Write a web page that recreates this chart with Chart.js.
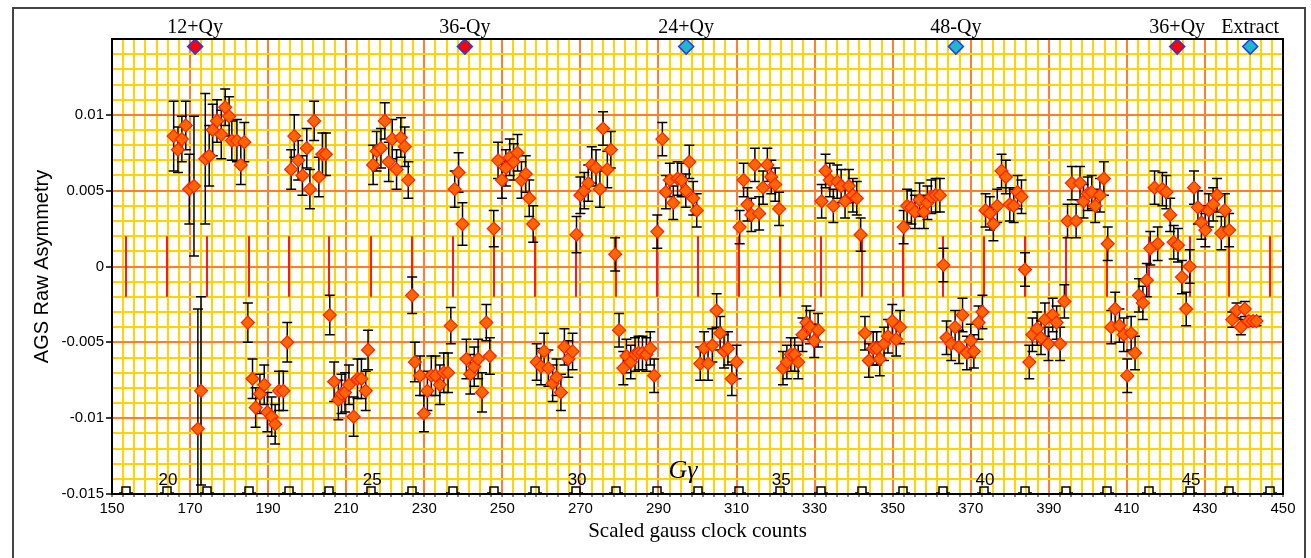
<!DOCTYPE html>
<html>
<head>
<meta charset="utf-8">
<title>AGS Raw Asymmetry</title>
<script src="https://cdn.jsdelivr.net/npm/chart.js@4"></script>
<style>
  body { margin: 0; background: #fff; }
  canvas { display: block; }
</style>
</head>
<body>
<canvas id="chart" width="1311" height="558"></canvas>
<script>
// Scaled gauss clock counts of every measurement
var gaussCounts = [
  165.8, 166.9, 167.9, 168.9, 169.8, 171.0, 172.0, 172.8, 173.9, 174.9, 175.8, 176.9, 178.0, 179.0, 180.0, 180.7, 182.0, 183.0, 183.9,
  184.8, 186.0, 186.8, 187.9, 189.0, 189.8, 190.9, 191.8, 192.8, 193.9, 194.9,
  195.9, 196.7, 197.7, 198.8, 199.9, 200.7, 201.8, 203.0, 203.9, 204.8,
  205.8, 206.9, 208.0, 208.8, 209.7, 210.7, 211.9, 212.9, 213.9, 215.0, 215.6,
  216.9, 217.8, 218.9, 219.9, 220.9, 221.8, 222.9, 224.0, 225.0, 225.9, 226.9,
  227.6, 228.9, 229.9, 230.8, 231.8, 232.9, 234.0, 235.0, 236.1, 236.8,
  237.8, 238.8, 239.8,
  240.8, 241.8, 242.8, 243.8, 244.8, 245.9, 246.8,
  247.8, 248.9, 249.9, 250.9, 251.9, 252.9, 253.9, 254.9, 256.0, 256.9, 257.9,
  258.8, 259.9, 260.7, 261.8, 262.9, 263.9, 265.0, 265.9, 266.9, 268.0,
  269.0, 270.0, 271.0, 272.0, 272.9, 274.0, 275.0, 275.8, 276.9, 277.8, 278.9,
  279.9, 281.0, 281.8, 282.9, 284.0, 284.9, 285.9, 286.9, 287.9, 288.9,
  289.7, 291.0, 291.9, 292.9, 293.8, 294.9, 295.9, 297.0, 297.9, 298.9, 299.8,
  300.7, 301.7, 302.7, 303.8, 304.9, 305.8, 306.8, 307.8, 308.8, 310.0,
  310.8, 311.8, 312.8, 313.8, 314.7, 315.8, 316.8, 317.9, 318.9, 319.9, 320.9,
  321.9, 322.9, 323.9, 324.9, 325.8, 326.9, 327.9, 328.8, 329.9, 330.9,
  331.8, 332.8, 333.9, 334.8, 335.8, 336.8, 337.8, 338.8, 339.8, 340.8, 341.8,
  342.9, 343.9, 345.0, 345.9, 346.7, 347.8, 348.8, 349.9, 350.9, 351.9,
  352.8, 353.7, 354.8, 355.7, 356.9, 358.0, 358.9, 359.9, 361.0, 362.1, 363.0,
  363.8, 365.0, 366.0, 367.0, 367.9, 369.0, 370.0, 370.8, 372.0, 373.0,
  373.8, 374.9, 375.8, 376.8, 377.9, 379.0, 380.0, 381.0, 382.0, 383.0, 383.9,
  385.0, 385.8, 387.0, 388.0, 389.0, 389.9, 391.0, 392.0, 392.9, 394.0,
  394.8, 395.9, 397.0, 398.0, 398.9, 400.0, 401.0, 401.9, 403.1, 404.1, 405.1,
  406.0, 407.0, 408.1, 409.2, 410.1, 411.1, 412.1, 413.1, 414.1, 415.1,
  416.0, 417.1, 417.9, 419.1, 420.1, 421.1, 422.0, 423.1, 424.1, 425.2, 426.1,
  427.2, 428.2, 429.1, 430.1, 431.0, 432.1, 433.1, 434.2, 435.1, 436.2,
  437.0, 438.1, 439.2, 440.2, 441.2, 442.3, 443.2
]

// Raw asymmetry read for each count
var asymmetry = [
  0.0086, 0.0077, 0.0084, 0.0093, 0.0051, 0.0053, -0.0107, -0.0082, 0.0071, 0.0073, 0.0090, 0.0096, 0.0087, 0.0105, 0.0099, 0.0083, 0.0083, 0.0067, 0.0082,
  -0.0037, -0.0074, -0.0093, -0.0084, -0.0078, -0.0096, -0.0099, -0.0104, -0.0082, -0.0082, -0.0050,
  0.0064, 0.0086, 0.0070, 0.0060, 0.0078, 0.0051, 0.0096, 0.0059, 0.0074, 0.0074,
  -0.0032, -0.0076, -0.0088, -0.0084, -0.0083, -0.0078, -0.0099, -0.0074, -0.0074, -0.0082, -0.0055,
  0.0067, 0.0076, 0.0078, 0.0096, 0.0069, 0.0084, 0.0064, 0.0085, 0.0079, 0.0057, -0.0019,
  -0.0063, -0.0072, -0.0097, -0.0082, -0.0072, -0.0072, -0.0078, -0.0070, -0.0070, -0.0039,
  0.0051, 0.0062, 0.0028,
  -0.0061, -0.0071, -0.0066, -0.0061, -0.0083, -0.0037, -0.0059,
  0.0025, 0.0070, 0.0057, 0.0065, 0.0072, 0.0069, 0.0075, 0.0057, 0.0061, 0.0045, 0.0028,
  -0.0063, -0.0066, -0.0056, -0.0067, -0.0077, -0.0073, -0.0083, -0.0053, -0.0061, -0.0056,
  0.0021, 0.0047, 0.0050, 0.0055, 0.0067, 0.0065, 0.0051, 0.0091, 0.0064, 0.0077, 0.0008,
  -0.0042, -0.0067, -0.0059, -0.0063, -0.0058, -0.0057, -0.0057, -0.0058, -0.0054, -0.0072,
  0.0023, 0.0084, 0.0049, 0.0057, 0.0042, 0.0058, 0.0057, 0.0050, 0.0069, 0.0045, 0.0037,
  -0.0064, -0.0054, -0.0064, -0.0052, -0.0029, -0.0044, -0.0056, -0.0054, -0.0074, -0.0063,
  0.0026, 0.0057, 0.0041, 0.0034, 0.0067, 0.0035, 0.0052, 0.0067, 0.0059, 0.0054, 0.0038,
  -0.0067, -0.0063, -0.0058, -0.0058, -0.0063, -0.0045, -0.0037, -0.0040, -0.0049, -0.0042,
  0.0043, 0.0063, 0.0057, 0.0040, 0.0056, 0.0053, 0.0043, 0.0053, 0.0047, 0.0045, 0.0021,
  -0.0044, -0.0062, -0.0054, -0.0054, -0.0061, -0.0051, -0.0046, -0.0036, -0.0048, -0.0040,
  0.0026, 0.0040, 0.0039, 0.0036, 0.0044, 0.0036, 0.0042, 0.0046, 0.0047, 0.0047, 0.0001,
  -0.0047, -0.0051, -0.0040, -0.0053, -0.0032, -0.0057, -0.0049, -0.0056, -0.0037, -0.0030,
  0.0037, 0.0035, 0.0028, 0.0040, 0.0063, 0.0059, 0.0041, 0.0040, 0.0049, 0.0046, -0.0002,
  -0.0063, -0.0045, -0.0041, -0.0047, -0.0035, -0.0051, -0.0032, -0.0037, -0.0051, -0.0023,
  0.0030, 0.0055, 0.0030, 0.0055, 0.0043, 0.0048, 0.0049, 0.0040, 0.0047, 0.0058, 0.0015,
  -0.0040, -0.0028, -0.0039, -0.0045, -0.0072, -0.0044, -0.0057, -0.0019, -0.0024, -0.0009,
  0.0012, 0.0052, 0.0015, 0.0051, 0.0049, 0.0034, 0.0016, 0.0014, -0.0007, -0.0028, 0.0000,
  0.0052, 0.0039, 0.0029, 0.0024, 0.0037, 0.0041, 0.0047, 0.0022, 0.0037, 0.0024,
  -0.0035, -0.0029, -0.0040, -0.0028, -0.0036, -0.0036, -0.0036
]

// Error bar half lengths
var asymmetryErr = [
  0.0023, 0.0015, 0.0015, 0.0016, 0.0023, 0.0046, 0.0079, 0.0062, 0.0043, 0.0020, 0.0017, 0.0014, 0.0016, 0.0012, 0.0013, 0.0013, 0.0014, 0.0013, 0.0013,
  0.0013, 0.0013, 0.0013, 0.0013, 0.0013, 0.0013, 0.0013, 0.0013, 0.0013, 0.0013, 0.0013,
  0.0013, 0.0014, 0.0013, 0.0013, 0.0013, 0.0013, 0.0013, 0.0013, 0.0014, 0.0014,
  0.0013, 0.0013, 0.0013, 0.0013, 0.0013, 0.0013, 0.0013, 0.0013, 0.0013, 0.0013, 0.0013,
  0.0013, 0.0013, 0.0013, 0.0012, 0.0013, 0.0013, 0.0013, 0.0013, 0.0013, 0.0012, 0.0012,
  0.0013, 0.0013, 0.0012, 0.0013, 0.0013, 0.0013, 0.0013, 0.0013, 0.0013, 0.0012,
  0.0012, 0.0013, 0.0014,
  0.0013, 0.0013, 0.0013, 0.0013, 0.0013, 0.0012, 0.0012,
  0.0012, 0.0012, 0.0012, 0.0012, 0.0012, 0.0012, 0.0012, 0.0012, 0.0012, 0.0012, 0.0012,
  0.0012, 0.0012, 0.0012, 0.0012, 0.0012, 0.0012, 0.0012, 0.0012, 0.0012, 0.0012,
  0.0012, 0.0012, 0.0012, 0.0012, 0.0012, 0.0012, 0.0012, 0.0011, 0.0012, 0.0012, 0.0011,
  0.0011, 0.0011, 0.0011, 0.0011, 0.0011, 0.0011, 0.0011, 0.0011, 0.0011, 0.0011,
  0.0011, 0.0011, 0.0011, 0.0011, 0.0011, 0.0011, 0.0011, 0.0011, 0.0011, 0.0011, 0.0011,
  0.0011, 0.0011, 0.0011, 0.0011, 0.0011, 0.0011, 0.0011, 0.0011, 0.0011, 0.0011,
  0.0011, 0.0011, 0.0011, 0.0011, 0.0011, 0.0011, 0.0011, 0.0011, 0.0011, 0.0011, 0.0011,
  0.0011, 0.0011, 0.0011, 0.0011, 0.0011, 0.0011, 0.0011, 0.0011, 0.0011, 0.0011,
  0.0011, 0.0011, 0.0011, 0.0011, 0.0011, 0.0011, 0.0011, 0.0011, 0.0011, 0.0011, 0.0011,
  0.0011, 0.0011, 0.0011, 0.0011, 0.0011, 0.0011, 0.0011, 0.0011, 0.0011, 0.0011,
  0.0011, 0.0011, 0.0011, 0.0011, 0.0011, 0.0011, 0.0011, 0.0011, 0.0011, 0.0011, 0.0011,
  0.0011, 0.0011, 0.0011, 0.0011, 0.0011, 0.0011, 0.0011, 0.0011, 0.0011, 0.0011,
  0.0011, 0.0011, 0.0011, 0.0011, 0.0011, 0.0011, 0.0011, 0.0011, 0.0011, 0.0011, 0.0011,
  0.0011, 0.0011, 0.0011, 0.0011, 0.0011, 0.0011, 0.0011, 0.0011, 0.0011, 0.0011,
  0.0011, 0.0011, 0.0011, 0.0011, 0.0011, 0.0011, 0.0011, 0.0011, 0.0011, 0.0011, 0.0011,
  0.0011, 0.0011, 0.0011, 0.0011, 0.0011, 0.0011, 0.0011, 0.0011, 0.0011, 0.0011,
  0.0011, 0.0011, 0.0011, 0.0011, 0.0011, 0.0011, 0.0011, 0.0011, 0.0011, 0.0011, 0.0011,
  0.0011, 0.0011, 0.0011, 0.0011, 0.0011, 0.0011, 0.0011, 0.0011, 0.0011, 0.0011,
  0.0005, 0.0005, 0.0005, 0.0005, 0.0003, 0.0003, 0.0003
]

// Counts where G gamma crosses each integer, starting at 19
var ggFirst = 19
var ggCounts = [
  153.6, 164.1, 174.3, 185.1, 195.3, 205.6, 216.4, 226.9, 237.3, 247.9,
  258.4, 268.9, 279.1, 289.6, 300.1, 310.6, 321.2, 331.7, 342.2, 352.7,
  362.9, 373.4, 383.9, 394.4, 404.9, 415.7, 426.2, 436.2, 446.7
]
var ggLabels = [20, 25, 30, 35, 40, 45]

// Resonances marked along the top
var resonanceNames = ['12+Qy', '36-Qy', '24+Qy', '48-Qy', '36+Qy', 'Extract']
var resonanceCounts = [171.3, 240.4, 297.1, 366.2, 422.9, 441.6]
var resonanceStrong = [true, true, false, false, true, false]

var yellow = '#ffd400'
var orange = '#ff7f2a'

// minor grid every 20/7 counts, a major line every 20
var xTicks = []
for (var i = 0; i <= 105; i++) xTicks.push(150 + i * 20 / 7)
var yTicks = []
for (var j = 0; j <= 30; j++) yTicks.push(-0.015 + j * 0.001)

var points = gaussCounts.map(function (c, k) {
  return { x: c, y: asymmetry[k] }
})
var resonancePoints = resonanceCounts.map(function (c) {
  return { x: c, y: 0.0145 }
})

var extras = {
  id: 'extras',
  beforeDatasetsDraw: function (chart) {
    var ctx = chart.ctx
    var xs = chart.scales.x
    var ys = chart.scales.y
    var area = chart.chartArea
    ctx.save()
    ctx.beginPath()
    ctx.rect(area.left, area.top, area.right - area.left, area.bottom - area.top)
    ctx.clip()

    // red G gamma marks around zero
    ctx.strokeStyle = '#ff1a1a'
    ctx.lineWidth = 2
    ggCounts.forEach(function (c) {
      var px = Math.round(xs.getPixelForValue(c))
      ctx.beginPath()
      ctx.moveTo(px, ys.getPixelForValue(0.002))
      ctx.lineTo(px, ys.getPixelForValue(-0.002))
      ctx.stroke()
    })

    // error bars with caps
    ctx.strokeStyle = '#000'
    ctx.lineWidth = 1.5
    gaussCounts.forEach(function (c, k) {
      var px = xs.getPixelForValue(c)
      var top = ys.getPixelForValue(asymmetry[k] + asymmetryErr[k])
      var bot = ys.getPixelForValue(asymmetry[k] - asymmetryErr[k])
      ctx.beginPath()
      ctx.moveTo(px, top)
      ctx.lineTo(px, bot)
      ctx.moveTo(px - 5, top)
      ctx.lineTo(px + 5, top)
      ctx.moveTo(px - 5, bot)
      ctx.lineTo(px + 5, bot)
      ctx.stroke()
    })
    ctx.restore()
  },
  afterDraw: function (chart) {
    var ctx = chart.ctx
    var xs = chart.scales.x
    var area = chart.chartArea
    ctx.save()

    // outer frame
    ctx.strokeStyle = '#444'
    ctx.lineWidth = 2
    ctx.strokeRect(13, 8, 1292, 600)

    // plot frame
    ctx.strokeStyle = '#000'
    ctx.lineWidth = 2
    ctx.strokeRect(area.left, area.top, area.right - area.left, area.bottom - area.top)

    // resonance names
    ctx.fillStyle = '#000'
    ctx.font = '20px "Liberation Serif"'
    ctx.textAlign = 'center'
    ctx.textBaseline = 'alphabetic'
    resonanceNames.forEach(function (name, k) {
      ctx.fillText(name, xs.getPixelForValue(resonanceCounts[k]), 33)
    })

    // G gamma pulses on the axis
    ctx.lineWidth = 1.5
    ggCounts.forEach(function (c) {
      var px = Math.round(xs.getPixelForValue(c))
      var y = area.bottom
      ctx.beginPath()
      ctx.moveTo(px - 7, y - 1)
      ctx.lineTo(px - 4, y - 1)
      ctx.lineTo(px - 4, y - 7)
      ctx.lineTo(px + 4, y - 7)
      ctx.lineTo(px + 4, y - 1)
      ctx.lineTo(px + 7, y - 1)
      ctx.stroke()
    })

    // G gamma numbers
    ctx.font = '17px "Liberation Sans"'
    ggLabels.forEach(function (n) {
      ctx.fillText(String(n), xs.getPixelForValue(ggCounts[n - ggFirst]) + 1, area.bottom - 9)
    })
    ctx.font = 'italic 26px "Liberation Serif"'
    ctx.fillText('G\u03b3', 683, 478)
    ctx.restore()
  }
}

var chart = new Chart(document.getElementById('chart'), {
  type: 'scatter',
  data: {
    datasets: [
      {
        data: points,
        pointStyle: 'rectRot',
        pointRadius: 6.5,
        pointBackgroundColor: '#ff6600',
        pointBorderColor: '#ff2000',
        pointBorderWidth: 1.2
      },
      {
        data: resonancePoints,
        pointStyle: 'rectRot',
        pointRadius: 7.5,
        pointBackgroundColor: resonanceStrong.map(function (s) { return s ? '#ff0000' : '#1fb8c8' }),
        pointBorderColor: '#2038ff',
        pointBorderWidth: 1.5
      }
    ]
  },
  options: {
    responsive: false,
    animation: false,
    layout: { padding: { left: 0, top: 39, right: 28, bottom: 0 } },
    plugins: { legend: { display: false }, tooltip: { enabled: false } },
    scales: {
      x: {
        type: 'linear',
        min: 150,
        max: 450,
        afterBuildTicks: function (scale) {
          scale.ticks = xTicks.map(function (v) { return { value: v } })
        },
        afterFit: function (scale) { scale.height = 64 },
        grid: {
          color: function (c) { return c.index % 7 === 0 ? orange : yellow },
          lineWidth: 2,
          tickColor: '#000',
          tickLength: 3,
          tickWidth: 1
        },
        border: { color: '#000', width: 2 },
        ticks: {
          autoSkip: false,
          maxRotation: 0,
          padding: 3,
          color: '#000',
          font: { family: 'Liberation Sans', size: 15 },
          callback: function (v, k) { return k % 7 === 0 ? String(Math.round(v)) : '' }
        },
        title: {
          display: true,
          text: 'Scaled gauss clock counts',
          color: '#000',
          font: { family: 'Liberation Serif', size: 21 },
          padding: { top: 0, bottom: 14 }
        }
      },
      y: {
        min: -0.015,
        max: 0.015,
        afterBuildTicks: function (scale) {
          scale.ticks = yTicks.map(function (v) { return { value: v } })
        },
        afterFit: function (scale) { scale.width = 112 },
        grid: {
          color: function (c) { return c.index % 5 === 0 ? orange : yellow },
          lineWidth: 2,
          tickColor: function (c) { return c.index % 5 === 0 && c.index < 30 ? '#000' : 'rgba(0,0,0,0)' },
          tickLength: 6,
          tickWidth: 1.5
        },
        border: { color: '#000', width: 2 },
        ticks: {
          autoSkip: false,
          padding: 2,
          color: '#000',
          font: { family: 'Liberation Sans', size: 15 },
          callback: function (v, k) {
            if (k % 5 !== 0 || k === 30) return ''
            return String(Number(v.toFixed(3)))
          }
        },
        title: {
          display: true,
          text: 'AGS Raw Asymmetry',
          color: '#000',
          font: { family: 'Liberation Sans', size: 20 },
          padding: { top: 30, bottom: 0 }
        }
      }
    }
  },
  plugins: [extras]
})
</script>
</body>
</html>
